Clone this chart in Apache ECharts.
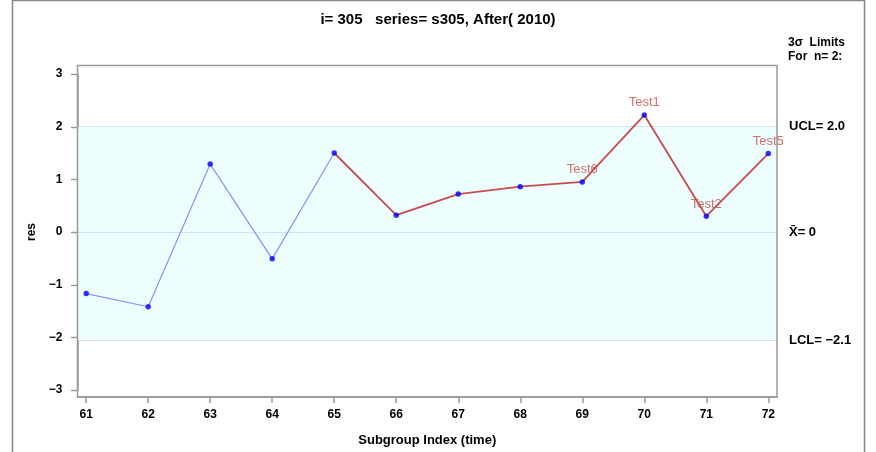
<!DOCTYPE html>
<html><head><meta charset="utf-8">
<script src="https://cdn.jsdelivr.net/npm/echarts@6/dist/echarts.min.js"></script>
<style>html,body{margin:0;padding:0;background:#fff}#c{width:876px;height:452px}</style>
</head><body><div id="c"></div>
<script>
const subgroups = [61,62,63,64,65,66,67,68,69,70,71,72];
const res = [-1.17,-1.42,1.29,-0.51,1.50,0.32,0.72,0.86,0.95,2.22,0.30,1.49];
const tests = ['','','','','','','','','Test6','Test1','Test2','Test5'];
const redStart = 4; // index of subgroup 65
const ucl = 2.0, center = 0, lcl = -2.06;
const uclText = 'UCL= 2.0', centerText = 'X\u0304= 0', lclText = 'LCL= \u22122.1';
const yMin = -3, yMax = 3, yStep = 1;
const yTicks = [-3,-2,-1,0,1,2,3];
const title = 'i= 305   series= s305, After( 2010)';

const F = '"Liberation Sans", Arial, sans-serif';
const chart = echarts.init(document.getElementById('c'), null, {renderer:'canvas'});
const pts = subgroups.map((s,i)=>[s,res[i]]);
const fmtNum = v => (v<0?'\u2212':'') + Math.abs(v);
const baseGraphic = [
  {type:'rect',shape:{x:77.5,y:65.5,width:699.5,height:331.5},style:{fill:'none',stroke:'#999',lineWidth:1.5},z:100},
  {type:'rect',shape:{x:12.5,y:0.5,width:852,height:470},style:{fill:'none',stroke:'#888',lineWidth:1.5},z:100},
  {type:'text',left:788,top:36,style:{text:'3\u03c3  Limits\nFor  n= 2:',fontFamily:F,fontSize:12,fontWeight:'bold',fill:'#000',lineHeight:14}}
];
chart.setOption({
  animation:false,
  title:{text:title,left:'center',top:7,textStyle:{fontFamily:F,fontSize:15,fontWeight:'bold',color:'#000'}},
  grid:{left:77.5,right:99,top:74,bottom:62},
  xAxis:{type:'value',min:60.86,max:72.14,offset:7,
    name:'Subgroup Index (time)',nameLocation:'middle',nameGap:37,
    nameTextStyle:{fontFamily:F,fontSize:13,fontWeight:'bold',color:'#000'},
    axisLine:{show:true,onZero:false,lineStyle:{color:'#999',width:1.5}},
    axisTick:{show:true,length:6,customValues:subgroups,lineStyle:{color:'#999',width:1.5}},
    axisLabel:{customValues:subgroups,fontFamily:F,fontSize:12,fontWeight:'bold',color:'#000',margin:12},
    splitLine:{show:false}},
  yAxis:{type:'value',min:yMin,max:yMax,interval:yStep,
    name:'res',nameLocation:'middle',nameGap:39,nameRotate:90,
    nameTextStyle:{fontFamily:F,fontSize:12,fontWeight:'bold',color:'#000'},
    axisLine:{show:true,onZero:false,lineStyle:{color:'#999',width:1.5}},
    axisTick:{show:false},
    axisLabel:{fontFamily:F,fontSize:12,fontWeight:'bold',color:'#000',margin:15,formatter:fmtNum},
    splitLine:{show:false}},
  graphic:baseGraphic,
  series:[
    {type:'line',data:[],z:1,
      markArea:{silent:true,itemStyle:{color:'#eefeff'},data:[[{yAxis:lcl},{yAxis:ucl}]]},
      markLine:{silent:true,symbol:'none',z:1,lineStyle:{color:'#d3e3f5',width:1.2,type:'solid'},
        label:{position:'end',distance:12,fontFamily:F,fontSize:13,fontWeight:'bold',color:'#000'},
        data:[{yAxis:ucl,label:{formatter:uclText}},{yAxis:center,label:{formatter:centerText}},{yAxis:lcl,label:{formatter:lclText}}]}},
    {type:'line',data:pts.slice(0,redStart+1),symbol:'none',lineStyle:{color:'#8c8cff',width:1.2},z:3},
    {type:'line',data:pts.slice(redStart),symbol:'none',lineStyle:{color:'#c84c4c',width:1.8},z:4},
    {type:'scatter',data:pts,symbolSize:5.5,itemStyle:{color:'#0000ff'},z:5,
      label:{show:true,position:'top',distance:3,fontFamily:F,fontSize:13,color:'#cc4a4a',textBorderWidth:0,
        formatter:p=>tests[p.dataIndex]}}
  ]
});
// y-axis ticks positioned through the axis scale
const tickGraphics = yTicks.map(v => {
  const y = Math.round(chart.convertToPixel({yAxisIndex:0}, v)) + 0.5;
  return {type:'line',shape:{x1:71,y1:y,x2:77.5,y2:y},style:{stroke:'#999',lineWidth:1.5},z:100};
});
chart.setOption({graphic:baseGraphic.concat(tickGraphics)});
</script></body></html>
